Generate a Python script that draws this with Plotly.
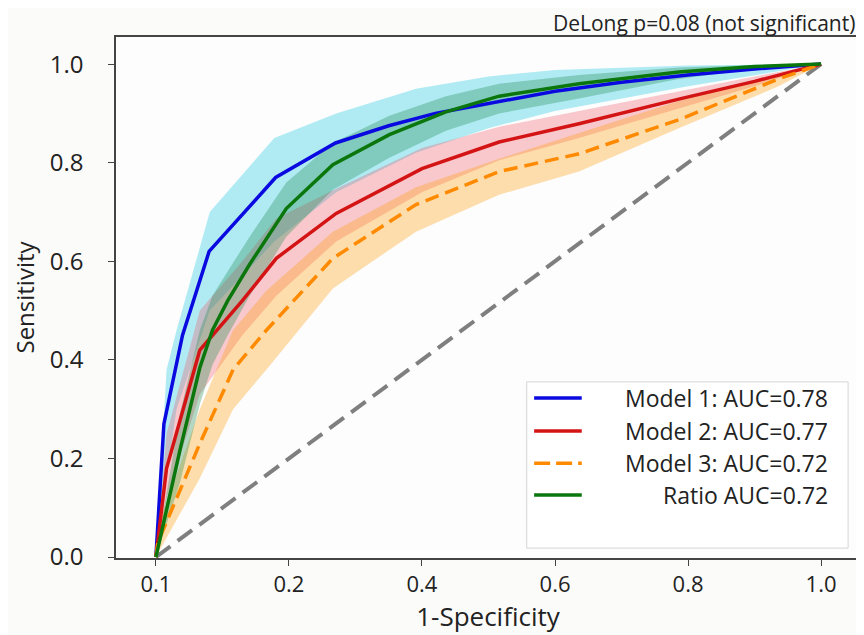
import plotly.graph_objects as go

# ---------------- data ----------------
m1_x = [0, 0.012, 0.04, 0.08, 0.18, 0.27, 0.35, 0.42, 0.48, 0.6, 0.7, 0.8, 0.9, 1.0]
m1_y = [0, 0.27, 0.45, 0.62, 0.77, 0.84, 0.875, 0.9, 0.915, 0.945, 0.963, 0.978, 0.99, 1.0]
m1_bx = [0, 0.016, 0.031, 0.081, 0.178, 0.271, 0.391, 0.5, 0.6, 0.8, 1.0]
m1_up = [0, 0.38, 0.46, 0.70, 0.85, 0.90, 0.95, 0.975, 0.988, 0.997, 1.0]
m1_lo = [0, 0.16, 0.30, 0.50, 0.64, 0.74, 0.82, 0.87, 0.905, 0.955, 1.0]

m2_x = [0, 0.016, 0.066, 0.13, 0.181, 0.271, 0.4, 0.516, 0.636, 0.786, 0.9, 1.0]
m2_y = [0, 0.18, 0.42, 0.52, 0.606, 0.697, 0.788, 0.842, 0.879, 0.929, 0.965, 1.0]
m2_up = [0, 0.25, 0.50, 0.60, 0.687, 0.747, 0.83, 0.873, 0.905, 0.945, 0.975, 1.0]
m2_lo = [0, 0.12, 0.33, 0.45, 0.53, 0.64, 0.74, 0.805, 0.85, 0.91, 0.955, 1.0]

m3_x = [0, 0.003, 0.066, 0.116, 0.166, 0.266, 0.391, 0.516, 0.636, 0.786, 0.936, 1.0]
m3_y = [0, 0.03, 0.23, 0.38, 0.46, 0.606, 0.715, 0.782, 0.818, 0.887, 0.97, 1.0]
m3_up = [0, 0.06, 0.30, 0.46, 0.54, 0.66, 0.75, 0.808, 0.86, 0.925, 0.98, 1.0]
m3_lo = [0, 0.01, 0.16, 0.30, 0.38, 0.545, 0.66, 0.735, 0.782, 0.87, 0.955, 1.0]

r_x = [0, 0.036, 0.066, 0.085, 0.108, 0.141, 0.196, 0.266, 0.351, 0.436, 0.516, 0.636, 0.786, 0.9, 1.0]
r_y = [0, 0.216, 0.384, 0.46, 0.52, 0.594, 0.707, 0.796, 0.857, 0.903, 0.935, 0.96, 0.984, 0.995, 1.0]
r_up = [0, 0.29, 0.46, 0.53, 0.58, 0.65, 0.76, 0.84, 0.895, 0.935, 0.96, 0.978, 0.993, 0.998, 1.0]
r_lo = [0, 0.15, 0.31, 0.39, 0.45, 0.53, 0.65, 0.745, 0.81, 0.865, 0.9, 0.93, 0.97, 0.99, 1.0]

chance = [0, 1]

x_tickvals = [0, 0.2, 0.4, 0.6, 0.8, 1.0]
x_ticktext = ["0.1", "0.2", "0.4", "0.6", "0.8", "1.0"]
y_tickvals = [0, 0.2, 0.4, 0.6, 0.8, 1.0]
y_ticktext = ["0.0", "0.2", "0.4", "0.6", "0.8", "1.0"]

labels = ["Model 1: AUC=0.78", "Model 2: AUC=0.77", "Model 3: AUC=0.72", "Ratio AUC=0.72"]
line_colors = ["#0a0ae0", "#d41414", "#ff8a00", "#0b760b"]
band_colors = ["rgba(0,195,225,0.30)", "rgba(240,80,95,0.30)",
               "rgba(255,160,20,0.35)", "rgba(30,140,80,0.33)"]

FONT = "Open Sans"

fig = go.Figure()

# bands
bands = [(m1_bx, m1_up, m1_lo), (m2_x, m2_up, m2_lo), (m3_x, m3_up, m3_lo), (r_x, r_up, r_lo)]
for (bx, up, lo), bc in zip(bands, band_colors):
    fig.add_trace(go.Scatter(x=bx + bx[::-1], y=up + lo[::-1], fill="toself",
                             fillcolor=bc, line=dict(width=0), mode="lines",
                             hoverinfo="skip", showlegend=False))

# chance line
fig.add_trace(go.Scatter(x=chance, y=chance, mode="lines",
                         line=dict(color="#7f7f7f", width=4, dash="18px,9px"),
                         showlegend=False))

curves = [(m1_x, m1_y, "solid"), (m2_x, m2_y, "solid"), (m3_x, m3_y, "14px,7px"), (r_x, r_y, "solid")]
for (cx, cy, dash), lc, lab in zip(curves, line_colors, labels):
    fig.add_trace(go.Scatter(x=cx, y=cy, mode="lines", name=lab,
                             line=dict(color=lc, width=3.5, dash=dash),
                             showlegend=False))

# manual legend (matplotlib-style, right aligned text)
shapes = [dict(type="rect", xref="paper", yref="paper", x0=0.552, x1=0.984, y0=0.019, y1=0.338,
               line=dict(color="#d6d6d6", width=1), fillcolor="rgba(255,255,255,0.9)", layer="above")]
rows_y = [0.307, 0.244, 0.182, 0.121]
annotations = []
for lab, lc, ry, dash in zip(labels, line_colors, rows_y, ["solid", "solid", "16px,6px", "solid"]):
    shapes.append(dict(type="line", xref="paper", yref="paper", x0=0.562, x1=0.626, y0=ry, y1=ry,
                       line=dict(color=lc, width=3.5, dash=dash), layer="above"))
    annotations.append(dict(xref="paper", yref="paper", x=0.960, y=ry, xanchor="right", yanchor="middle",
                            text=lab, showarrow=False, font=dict(family=FONT, size=23, color="#222")))

annotations.append(dict(xref="paper", yref="paper", x=0.996, y=1.0265, xanchor="right", yanchor="middle",
                        text="DeLong p=0.08 (not significant)", showarrow=False,
                        font=dict(family=FONT, size=21, color="#222")))

# page body has an 8px margin: compensate so the figure fills the 864x635 window like the reference
fig.update_layout(
    width=856, height=627,
    margin=dict(l=108, r=2, t=29, b=77),
    paper_bgcolor="#fbfbfa", plot_bgcolor="#fdfdfd",
    font=dict(family=FONT, color="#222"),
    shapes=shapes, annotations=annotations, showlegend=False,
)
fig.update_xaxes(range=[-0.06, 1.0585], tickvals=x_tickvals, ticktext=x_ticktext,
                 showgrid=False, zeroline=False, showline=True, mirror=True,
                 linecolor="#444", linewidth=1.5, ticks="outside", ticklen=6, tickcolor="#444",
                 tickfont=dict(size=22, family=FONT, color="#222"), ticklabelstandoff=0,
                 title=dict(text="1-Specificity", font=dict(size=26, family=FONT, color="#222"), standoff=6))
fig.update_yaxes(range=[-0.002, 1.055], tickvals=y_tickvals, ticktext=y_ticktext,
                 showgrid=False, zeroline=False, showline=True, mirror=True,
                 linecolor="#444", linewidth=1.5, ticks="outside", ticklen=6, tickcolor="#444",
                 tickfont=dict(size=24, family=FONT, color="#222"), ticklabelstandoff=20,
                 title=dict(text="Sensitivity", font=dict(size=24, family=FONT, color="#222"), standoff=14))

fig.write_html("out.html")
